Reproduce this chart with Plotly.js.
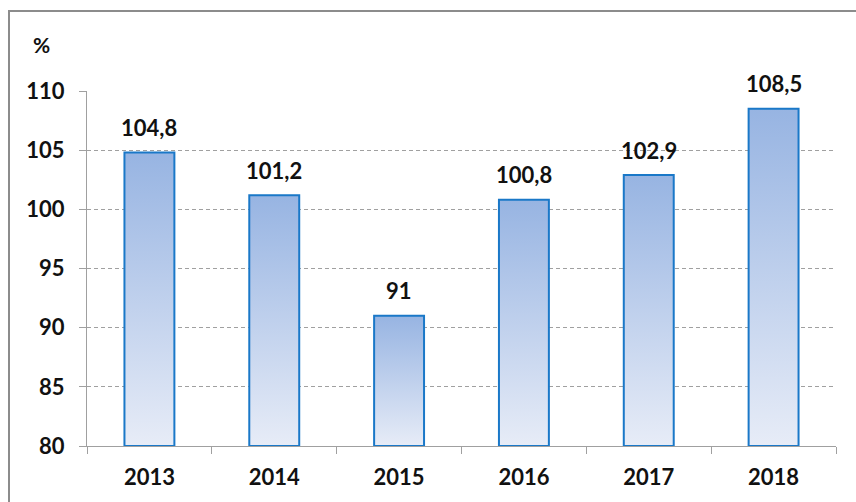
<!DOCTYPE html>
<html><head><meta charset="utf-8">
<script src="https://cdn.plot.ly/plotly-3.0.1.min.js"></script>
<style>
html,body{margin:0;padding:0;background:#fff;}
#frame{position:absolute;left:8px;top:10px;width:900px;height:600px;border:2px solid #8c8c8c;box-sizing:border-box;}
#chart{position:absolute;left:0;top:0;width:856px;height:502px;}
</style>
</head><body>
<div id="frame"></div>
<div id="chart"></div>
<script>
const years = ['2013','2014','2015','2016','2017','2018'];
const values = [104.8, 101.2, 91, 100.8, 102.9, 108.5];
const yTicks = [80, 85, 90, 95, 100, 105, 110];
const baseValue = 80;

const fontFam = 'Lato, "Open Sans", sans-serif';
const fs = 22;
const data = [{
  type: 'bar',
  x: years,
  y: values.map(v => v - baseValue),
  base: baseValue,
  marker: {color: '#b4c7e9', line: {color: '#1a78c8', width: 2}},
  hoverinfo: 'none'
}];

const annotations = years.map((yr, i) => ({
  x: i, y: values[i], xref: 'x', yref: 'y',
  text: String(values[i]).replace('.', ','),
  showarrow: false, yanchor: 'middle', yshift: 25,
  font: {family: fontFam, size: fs, color: '#111', weight: 'bold'}
}));
annotations.push({
  xref: 'paper', yref: 'paper', x: -0.061, y: 1.13, xanchor: 'center', yanchor: 'middle',
  text: '<b>%</b>', showarrow: false, font: {family: fontFam, size: 21, color: '#111'}
});

const layout = {
  width: 856, height: 502,
  margin: {l: 87, r: 20, t: 91, b: 56},
  paper_bgcolor: 'rgba(0,0,0,0)', plot_bgcolor: 'rgba(0,0,0,0)',
  showlegend: false,
  bargap: 0.6,
  font: {family: fontFam, size: fs, color: '#111', weight: 'bold'},
  xaxis: {
    type: 'category', range: [-0.5, years.length - 0.5],
    showline: true, linecolor: '#a0a0a0', linewidth: 1,
    ticks: 'outside', tickson: 'boundaries', ticklen: 7, tickcolor: '#a0a0a0',
    tickfont: {family: fontFam, size: fs, color: '#111', weight: 'bold'},
    tickangle: 0, ticklabelstandoff: 12,
    showgrid: false, zeroline: false
  },
  yaxis: {
    range: [80, 110], tickvals: yTicks, ticktext: yTicks.map(String),
    showline: true, linecolor: '#a0a0a0', linewidth: 1,
    ticks: 'outside', ticklen: 7, tickcolor: '#a0a0a0',
    ticklabelstandoff: 10,
    showgrid: true, gridcolor: '#a0a0a0', griddash: '4px,3px', gridwidth: 1,
    zeroline: false,
    tickfont: {family: fontFam, size: fs, color: '#111', weight: 'bold'}
  },
  annotations: annotations
};

Plotly.newPlot('chart', data, layout, {displayModeBar: false, staticPlot: true}).then(gd => {
  const svg = gd.querySelector('svg.main-svg');
  const ns = 'http://www.w3.org/2000/svg';
  let defs = svg.querySelector('defs');
  if (!defs) { defs = document.createElementNS(ns, 'defs'); svg.insertBefore(defs, svg.firstChild); }
  const lg = document.createElementNS(ns, 'linearGradient');
  lg.setAttribute('id', 'barGrad');
  lg.setAttribute('x1', '0'); lg.setAttribute('y1', '0');
  lg.setAttribute('x2', '0'); lg.setAttribute('y2', '1');
  [['0', '#97b4e2'], ['1', '#e7ecf7']].forEach(([o, c]) => {
    const s = document.createElementNS(ns, 'stop');
    s.setAttribute('offset', o); s.setAttribute('stop-color', c);
    lg.appendChild(s);
  });
  defs.appendChild(lg);
  gd.querySelectorAll('.bars .point path').forEach(p => {
    p.style.fill = 'url(#barGrad)';
    p.style.fillOpacity = '1';
  });
});
</script>
</body></html>
